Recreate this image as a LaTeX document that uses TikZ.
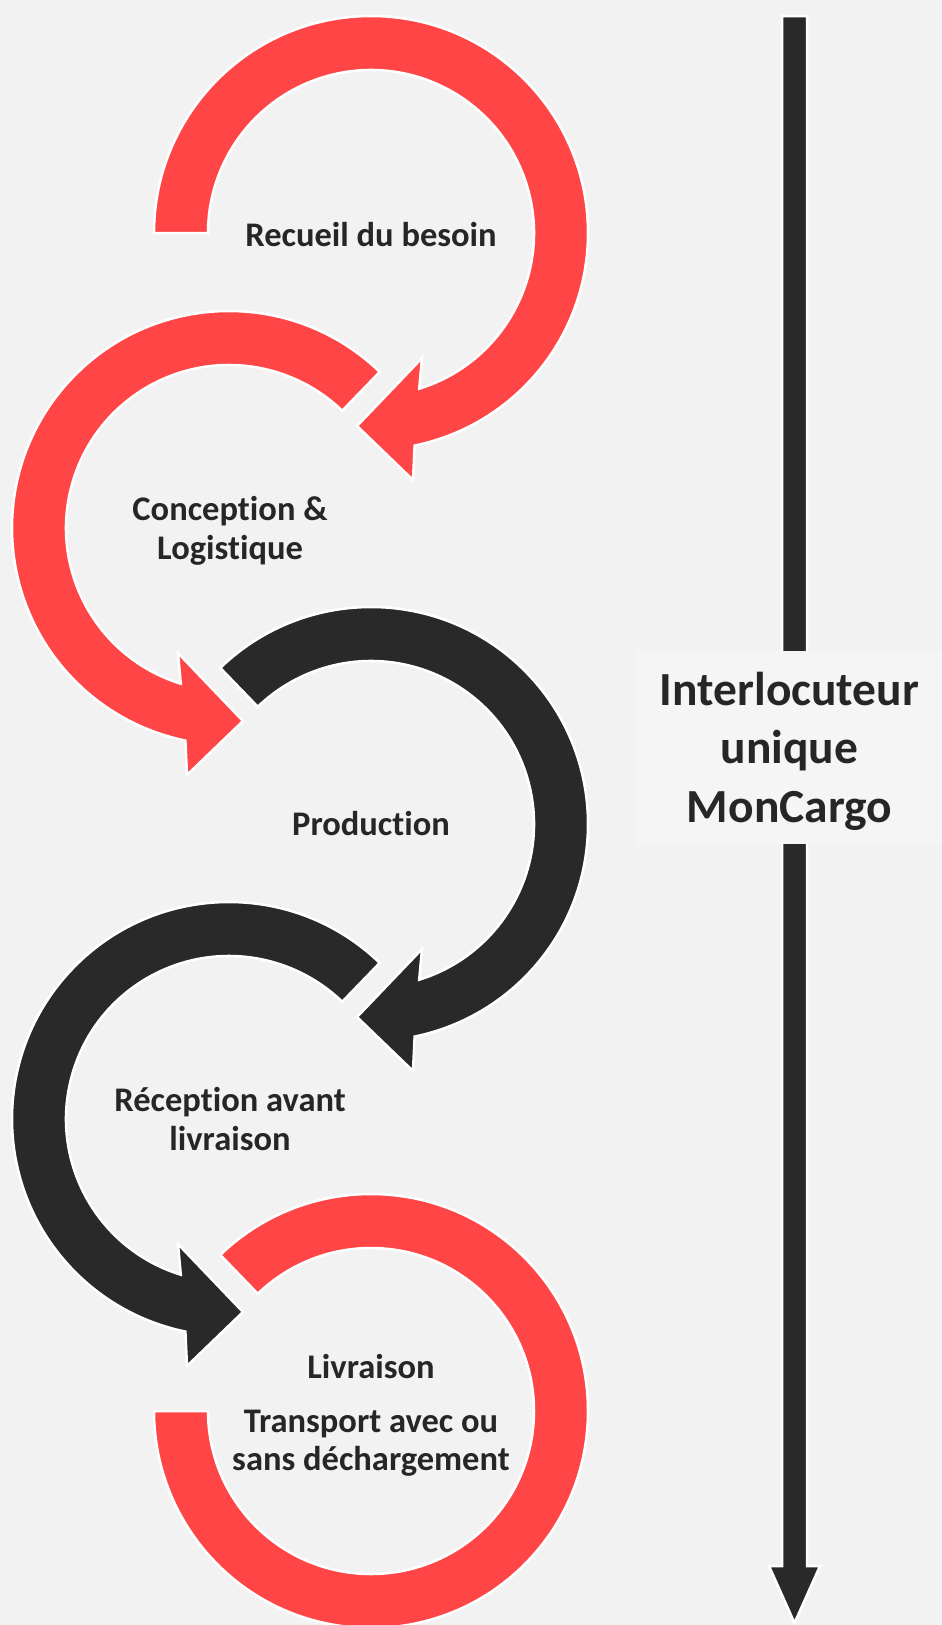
\documentclass[tikz,border=0pt]{standalone}
\usepackage{fontspec}
\setmainfont{Carlito}[Ligatures=NoCommon]
\definecolor{ringred}{HTML}{FF4545}
\definecolor{ringdark}{HTML}{292929}
\definecolor{paper}{HTML}{F2F2F2}
\definecolor{boxfill}{HTML}{F5F5F5}
\definecolor{inktext}{HTML}{262626}
\tikzset{
  redring/.style={fill=ringred, draw=white, line width=2.5pt, line join=miter},
  darkring/.style={fill=ringdark, draw=white, line width=2.5pt, line join=miter},
  steplabel/.style={text=inktext, font=\bfseries\fontsize{34.5}{38.5}\selectfont, align=center, inner sep=0pt},
  hubtext/.style={text=inktext, font=\bfseries\fontsize{47.5}{58.5}\selectfont, align=center, inner sep=0pt}
}
\begin{document}
\begin{tikzpicture}[x=1pt,y=1pt]
    % ring radii
    \def\rout{217}
    \def\rin{163}

    % background
    \fill[paper] (0,0) rectangle (942,-1625);
    \useasboundingbox (0,0) rectangle (942,-1625);

    % Recueil du besoin: clockwise ring
    \begin{scope}[shift={(371,-233)}]
      \filldraw[redring] (180:\rout) arc[start angle=180, end angle=-78.4, radius=\rout]
        -- (42,-247) -- (-14,-193) -- (51,-125)
        -- (-72.8:\rin) arc[start angle=-72.8, end angle=180, radius=\rin] -- cycle;
    \end{scope}

    % Conception: counter-clockwise ring
    \begin{scope}[shift={(229,-528)}]
      \filldraw[redring] (46:\rout) arc[start angle=46, end angle=258.4, radius=\rout]
        -- (-42,-247) -- (14,-193) -- (-51,-125)
        -- (252.8:\rin) arc[start angle=252.8, end angle=46, radius=\rin] -- cycle;
    \end{scope}

    % Production
    \begin{scope}[shift={(371,-824)}]
      \filldraw[darkring] (134:\rout) arc[start angle=134, end angle=-78.4, radius=\rout]
        -- (42,-247) -- (-14,-193) -- (51,-125)
        -- (-72.8:\rin) arc[start angle=-72.8, end angle=134, radius=\rin] -- cycle;
    \end{scope}

    % Reception
    \begin{scope}[shift={(229,-1119)}]
      \filldraw[darkring] (46:\rout) arc[start angle=46, end angle=258.4, radius=\rout]
        -- (-42,-247) -- (14,-193) -- (-51,-125)
        -- (252.8:\rin) arc[start angle=252.8, end angle=46, radius=\rin] -- cycle;
    \end{scope}

    % Livraison: open ring, no head
    \begin{scope}[shift={(371,-1411)}]
      \filldraw[redring] (134:\rout) arc[start angle=134, end angle=-180, radius=\rout]
        -- (180:\rin) arc[start angle=-180, end angle=134, radius=\rin] -- cycle;
    \end{scope}

    % long arrow on the right
    \filldraw[darkring] (782,-16) -- (807,-16) -- (807,-1566) -- (820,-1566)
      -- (794.5,-1623) -- (769,-1566) -- (782,-1566) -- cycle;
    \fill[boxfill] (637,-651) rectangle (942,-844);
    \node[hubtext] (interlocuteur) at (789.5,-751) {Interlocuteur\\unique\\MonCargo};

    % step labels
    \node[steplabel] (recueil) at (371,-235) {Recueil du besoin};
    \node[steplabel] (conception) at (230,-531) {Conception \&\\Logistique};
    \node[steplabel] (production) at (371,-824) {Production};
    \node[steplabel] (reception) at (230,-1119) {Réception avant\\livraison};
    \node[steplabel] (livraison) at (371,-1367) {Livraison};
    \node[steplabel] (transport) at (371,-1443) {Transport avec ou\\sans déchargement};
\end{tikzpicture}
\end{document}
